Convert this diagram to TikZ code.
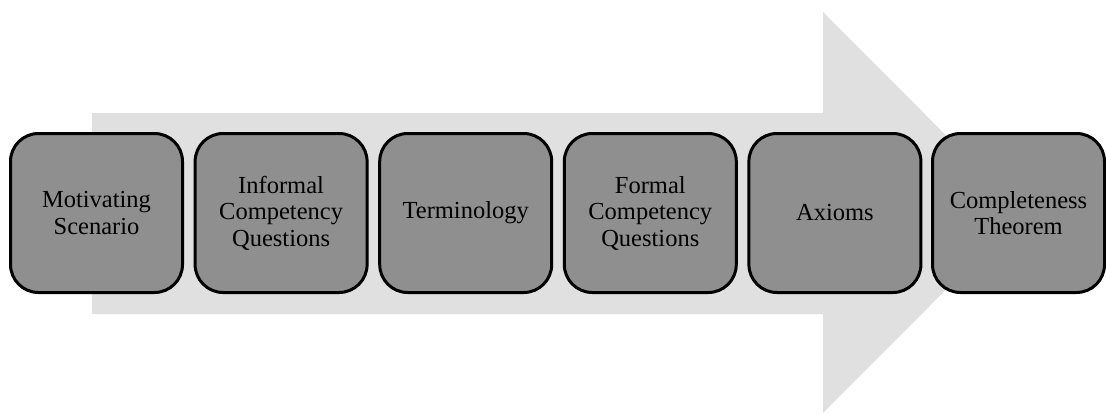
\documentclass[tikz,border=0pt]{standalone}
\usepackage{fontspec}
\setmainfont{Liberation Serif}
\definecolor{arrowgray}{HTML}{E0E0E0}
\definecolor{boxgray}{HTML}{8F8F8F}
\begin{document}
\begin{tikzpicture}[x=1pt,y=-1pt,
  stepbox/.style={draw=black, line width=3pt, fill=boxgray, rounded corners=28pt,
    minimum width=172pt, minimum height=159pt, inner sep=0pt, align=center,
    text width=168pt, font=\fontsize{24.5}{26.5}\selectfont}]
\useasboundingbox (0,0) rectangle (1106,413);
% big background arrow
\fill[arrowgray] (92,113) -- (823,113) -- (823,12) -- (1023,212.5) -- (823,413)
  -- (823,314) -- (92,314) -- cycle;
% steps
\node[stepbox] (b1) at (96.5,213) {Motivating\\Scenario};
\node[stepbox] (b2) at (281.1,213) {Informal\\Competency\\Questions};
\node[stepbox] (b3) at (465.7,213) {Terminology};
\node[stepbox] (b4) at (650.3,213) {Formal\\Competency\\Questions};
\node[stepbox] (b5) at (834.9,213) {Axioms};
\node[stepbox] (b6) at (1018.5,213) {Completeness\\Theorem};
\end{tikzpicture}
\end{document}
